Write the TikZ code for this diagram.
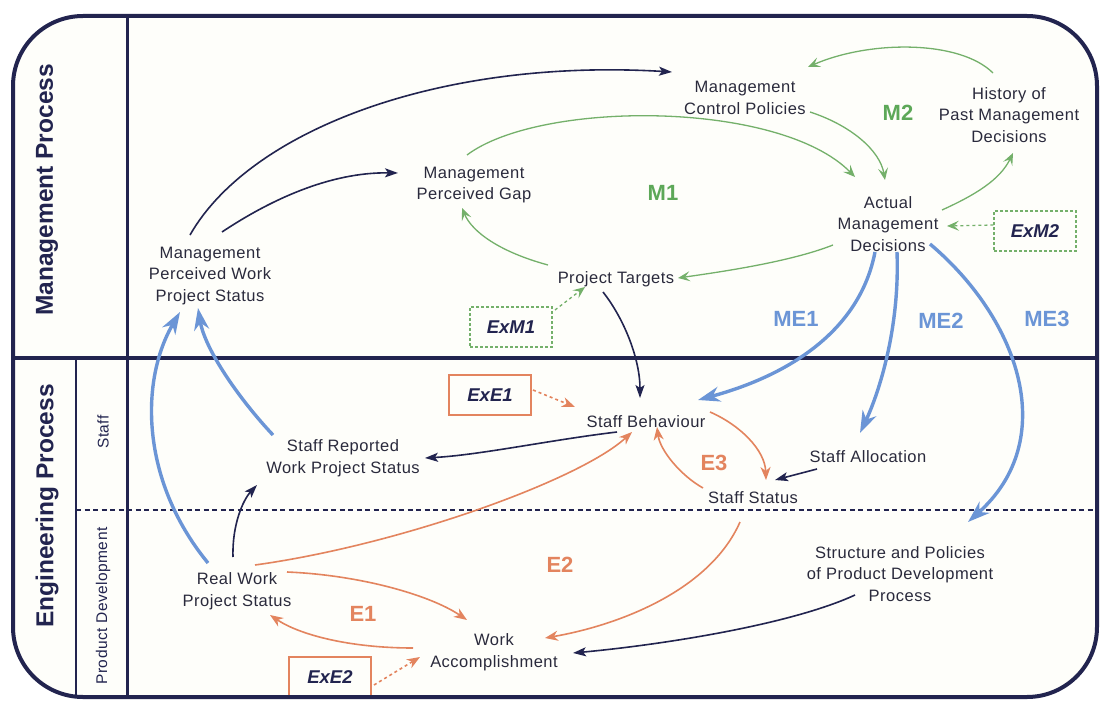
\documentclass[tikz,border=0pt]{standalone}
\usepackage{fontspec}
\setmainfont{Liberation Sans}
\newfontfamily\lblfont[LetterSpace=3]{Liberation Sans}
\usetikzlibrary{arrows.meta}

\definecolor{navy}{HTML}{22244F}
\definecolor{inkc}{HTML}{2A2A3C}
\definecolor{mgreen}{HTML}{74B06A}
\definecolor{mgreentext}{HTML}{5DA858}
\definecolor{eblue}{HTML}{6B95D6}
\definecolor{eorange}{HTML}{E3845E}
\definecolor{paper}{HTML}{FEFEFA}

\begin{document}
\begin{tikzpicture}[x=1pt,y=-1pt,
  var/.style={font=\lblfont\fontsize{16.5}{21.5}\selectfont, text=inkc, align=center, inner sep=0pt},
  lane/.style={font=\bfseries\fontsize{24.5}{28}\selectfont, text=navy, rotate=90, inner sep=0pt},
  sublane/.style={font=\lblfont\fontsize{15.5}{18}\selectfont, text=navy, rotate=90, inner sep=0pt},
  looplbl/.style={font=\bfseries\fontsize{22}{24}\selectfont, inner sep=0pt},
  extbox/.style={font=\bfseries\itshape\fontsize{18.5}{20}\selectfont, minimum width=82pt, minimum height=40pt, inner sep=0pt, line width=1.1pt},
  mbox/.style={extbox, draw=mgreen, densely dashed, text=navy},
  ebox/.style={extbox, draw=eorange, text=navy},
  dk/.style={draw=navy, line width=1.6pt, -{Stealth[length=13pt,width=9pt,inset=3pt]}},
  bl/.style={draw=eblue, line width=3.4pt, -{Stealth[length=22pt,width=15pt,inset=7pt]}},
  gr/.style={draw=mgreen, line width=1.3pt, -{Stealth[length=12pt,width=10pt,inset=5pt]}},
  og/.style={draw=eorange, line width=1.6pt, -{Stealth[length=13pt,width=10pt,inset=4pt]}},
]
% page and frame
\fill[white] (0,0) rectangle (1101,701);
\useasboundingbox (0,0) rectangle (1101,701);
\fill[paper, rounded corners=70pt] (13,16) rectangle (1097,697);
\draw[navy, line width=1.4pt] (76,358) -- (76,697);
\draw[navy, line width=1.3pt, dash pattern=on 5pt off 3.5pt] (76,510) -- (1097,510);
\draw[navy, line width=3pt] (127,16) -- (127,697);
\draw[navy, line width=3.2pt] (13,358) -- (1097,358);

% lane titles
\node[lane] (lmgmt) at (47,190) {Management Process};
\node[lane] (leng) at (47,506) {Engineering Process};
\node[sublane] (lstaff) at (103,432) {Staff};
\node[sublane] (lprod) at (103,606) {Product Development};

% variables
\node[var] (mpwps) at (210,276) {Management\\Perceived Work\\Project Status};
\node[var] (mcp) at (745,98) {Management\\Control Policies};
\node[var] (hist) at (1009,115) {History of\\Past Management\\Decisions};
\node[var] (mpg) at (474,185) {Management\\Perceived Gap};
\node[var] (amd) at (888,224) {Actual\\Management\\Decisions};
\node[var] (pt) at (616,279) {Project Targets};
\node[var] (sb) at (646,422) {Staff Behaviour};
\node[var] (srw) at (343,458) {Staff Reported\\Work Project Status};
\node[var] (sa) at (868,457) {Staff Allocation};
\node[var] (ss) at (753,498) {Staff Status};
\node[var] (spd) at (900,574) {Structure and Policies\\of Product Development\\Process};
\node[var] (rw) at (237,591) {Real Work\\Project Status};
\node[var] (wa) at (494,652) {Work\\Accomplishment};

% external inputs
\node[mbox] (exm1) at (511,327) {ExM1};
\node[mbox] (exm2) at (1035,231) {ExM2};
\node[ebox] (exe1) at (490,395) {ExE1};
\node[ebox] (exe2) at (330,677) {ExE2};

% loop labels
\node[looplbl, text=mgreentext] (m1) at (663,193) {M1};
\node[looplbl, text=mgreentext] (m2) at (898,113) {M2};
\node[looplbl, text=eblue] (me1) at (796,319) {ME1};
\node[looplbl, text=eblue] (me2) at (941,321) {ME2};
\node[looplbl, text=eblue] (me3) at (1047,319) {ME3};
\node[looplbl, text=eorange] (e1) at (363,614) {E1};
\node[looplbl, text=eorange] (e2) at (560,565) {E2};
\node[looplbl, text=eorange] (e3) at (714,463) {E3};

% management links
\draw[dk] ([shift={(-20,-41)}]mpwps.center) .. controls +(60,-105) and +(-232,-14) .. ([shift={(-73,-26)}]mcp.center);
\draw[dk] ([shift={(12,-44)}]mpwps.center) .. controls +(48,-32) and +(-68,-1) .. ([shift={(-76,-12)}]mpg.center);
\draw[gr] ([shift={(-7,-30)}]mpg.center) .. controls +(73,-55) and +(-75,-77) .. ([shift={(-33,-47)}]amd.center);
\draw[gr] ([shift={(65,14)}]mcp.center) .. controls +(40,13) and +(-5,-30) .. ([shift={(-3,-44)}]amd.center);
\draw[gr] ([shift={(-16,-42)}]hist.center) .. controls +(-33,-33) and +(62,-27) .. ([shift={(63,-31)}]mcp.center);
\draw[gr] ([shift={(54,-14)}]amd.center) .. controls +(33,-15) and +(-13,27) .. ([shift={(4,38)}]hist.center);
\draw[gr] ([shift={(-55,21)}]amd.center) .. controls +(-43,17) and +(42,-6) .. ([shift={(62,-1)}]pt.center);
\draw[gr] ([shift={(-68,-14)}]pt.center) .. controls +(-48,-13) and +(10,24) .. ([shift={(-12,23)}]mpg.center);
\draw[gr, dashed] ([shift={(0,-6)}]exm2.west) -- ([shift={(59,2)}]amd.center);
\draw[gr, dashed] ([shift={(44,-17)}]exm1.center) -- ([shift={(-31,8)}]pt.center);
\draw[dk] ([shift={(-13,13)}]pt.center) .. controls +(22,28) and +(0,-38) .. ([shift={(-6,-24)}]sb.center);

% management to engineering links
\draw[bl] ([shift={(-13,28)}]amd.center) .. controls +(-15,78) and +(92,-25) .. ([shift={(52,-22)}]sb.center);
\draw[bl] ([shift={(9,28)}]amd.center) .. controls +(3,78) and +(18,-38) .. ([shift={(-8,-24)}]sa.center);
\draw[bl] ([shift={(42,20)}]amd.center) .. controls +(90,76) and +(92,-82) .. ([shift={(68,-52)}]spd.center);
\draw[bl] ([shift={(-70,-23)}]srw.center) .. controls +(-33,-35) and +(7,42) .. ([shift={(-12,32)}]mpwps.center);
\draw[bl] ([shift={(-29,-28)}]rw.center) .. controls +(-68,-83) and +(-40,68) .. ([shift={(-30,36)}]mpwps.center);

% engineering links
\draw[dk] ([shift={(-29,10)}]sb.center) .. controls +(-67,8) and +(55,-3) .. ([shift={(82,0)}]srw.center);
\draw[dk] ([shift={(-4,-34)}]rw.center) .. controls +(-1,-32) and +(-14,15) .. ([shift={(-86,27)}]srw.center);
\draw[og] ([shift={(18,-26)}]rw.center) .. controls +(145,-20) and +(-52,48) .. ([shift={(-14,10)}]sb.center);
\draw[og] ([shift={(50,-19)}]rw.center) .. controls +(73,3) and +(-37,-25) .. ([shift={(-27,-32)}]wa.center);
\draw[og] ([shift={(-81,-4)}]wa.center) .. controls +(-63,0) and +(30,20) .. ([shift={(33,24)}]rw.center);
\draw[og] ([shift={(64,-10)}]sb.center) .. controls +(30,13) and +(-1,-30) .. ([shift={(13,-18)}]ss.center);
\draw[og] ([shift={(-50,-10)}]ss.center) .. controls +(-23,-13) and +(3,23) .. ([shift={(11,5)}]sb.center);
\draw[dk] ([shift={(-51,12)}]sa.center) -- ([shift={(22,-18)}]ss.center);
\draw[og] ([shift={(-13,24)}]ss.center) .. controls +(-30,68) and +(75,-13) .. ([shift={(51,-14)}]wa.center);
\draw[dk] ([shift={(-45,21)}]spd.center) .. controls +(-65,30) and +(87,-8) .. ([shift={(79,1)}]wa.center);
\draw[og, dashed] ([shift={(43,-5)}]exe1.center) -- ([shift={(-71,-15)}]sb.center);
\draw[og, dashed] ([shift={(44,8)}]exe2.center) -- ([shift={(-74,5)}]wa.center);

% outer frame on top
\draw[navy, line width=4pt, rounded corners=70pt] (13,16) rectangle (1097,697);
\end{tikzpicture}
\end{document}
